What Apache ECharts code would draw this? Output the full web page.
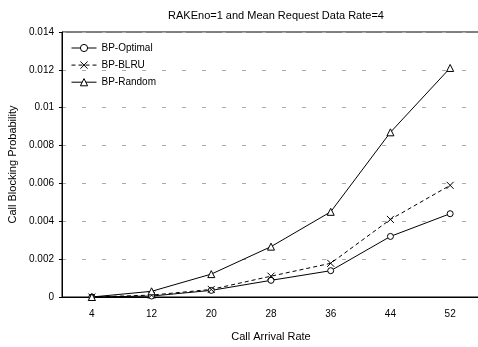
<!DOCTYPE html>
<html>
<head>
<meta charset="utf-8">
<script src="https://cdn.jsdelivr.net/npm/echarts@6/dist/echarts.min.js"></script>
<style>
  html, body { margin: 0; padding: 0; background: #fff; }
  #chart { width: 478px; height: 347px; }
</style>
</head>
<body>
<div id="chart"></div>
<script>
const categories = ['4', '12', '20', '28', '36', '44', '52']
const bpOptimal = [0, 0.00005, 0.00035, 0.00088, 0.00139, 0.0032, 0.0044]
const bpBlru = [0, 0.0001, 0.0004, 0.0011, 0.00178, 0.0041, 0.0059]
const bpRandom = [0, 0.0003, 0.00121, 0.00266, 0.0045, 0.0087, 0.0121]

const font = '"Liberation Sans", Arial, sans-serif'
const crossPath = 'path://M0,0L10,10M10,0L0,10'

const chart = echarts.init(document.getElementById('chart'))

chart.setOption({
  backgroundColor: '#fff',
  animation: false,
  title: {
    text: 'RAKEno=1 and Mean Request Data Rate=4',
    left: 271,
    top: 5,
    textAlign: 'center',
    textStyle: { fontFamily: font, fontSize: 11, fontWeight: 'normal', color: '#000' }
  },
  legend: {
    orient: 'vertical',
    left: 66,
    top: 38,
    itemGap: 6,
    itemWidth: 25,
    itemHeight: 9,
    textStyle: { fontFamily: font, fontSize: 10, color: '#000' },
    itemStyle: { borderWidth: 1 },
    lineStyle: { width: 1 },
    data: ['BP-Optimal', 'BP-BLRU', 'BP-Random']
  },
  grid: {
    left: 62,
    top: 32,
    width: 418,
    height: 265,
    outerBoundsMode: 'none',
    containLabel: false,
    show: true,
    borderColor: '#000',
    borderWidth: 1
  },
  xAxis: {
    type: 'category',
    data: categories,
    boundaryGap: true,
    name: 'Call Arrival Rate',
    nameLocation: 'middle',
    nameGap: 34,
    nameTextStyle: { fontFamily: font, fontSize: 11, color: '#000' },
    axisLine: { lineStyle: { color: '#000', width: 1 } },
    axisTick: { inside: true, length: 5, lineStyle: { color: '#000' } },
    axisLabel: { fontFamily: font, fontSize: 10, color: '#000', margin: 12 },
    splitLine: { show: false }
  },
  yAxis: {
    type: 'value',
    min: 0,
    max: 0.014,
    interval: 0.002,
    name: 'Call Blocking Probability',
    nameLocation: 'middle',
    nameGap: 40,
    nameTextStyle: { fontFamily: font, fontSize: 11, color: '#000' },
    axisLine: { show: true, lineStyle: { color: '#000', width: 1 } },
    axisTick: { show: true, length: 3, lineStyle: { color: '#000' } },
    axisLabel: { fontFamily: font, fontSize: 10, color: '#000', margin: 8 },
    splitLine: { lineStyle: { color: '#aaa', type: [4, 16], width: 1 } }
  },
  series: [{
    name: 'BP-Optimal',
    type: 'line',
    data: bpOptimal,
    symbol: 'circle',
    symbolSize: 6,
    lineStyle: { color: '#000', width: 1 },
    itemStyle: { color: '#fff', borderColor: '#000', borderWidth: 1 }
  }, {
    name: 'BP-BLRU',
    type: 'line',
    data: bpBlru,
    symbol: crossPath,
    symbolSize: 7,
    lineStyle: { color: '#000', width: 1, type: [4, 3] },
    itemStyle: { color: 'none', borderColor: '#000', borderWidth: 1 }
  }, {
    name: 'BP-Random',
    type: 'line',
    data: bpRandom,
    symbol: 'triangle',
    symbolSize: 7,
    lineStyle: { color: '#000', width: 1 },
    itemStyle: { color: '#fff', borderColor: '#000', borderWidth: 1 }
  }]
})
</script>
</body>
</html>
